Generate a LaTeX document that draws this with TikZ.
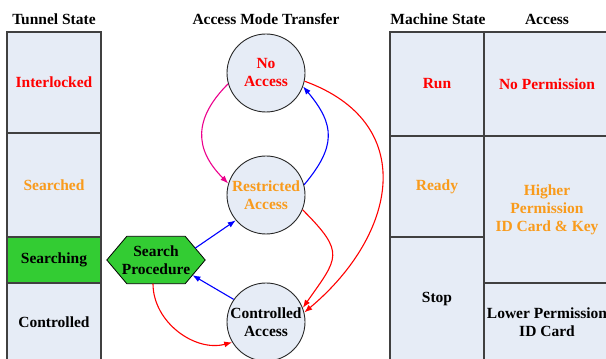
\documentclass[tikz,border=0pt]{standalone}
\usepackage{fontspec}
\setmainfont{Liberation Serif}
\usetikzlibrary{arrows.meta,backgrounds,calc}
\definecolor{cellfill}{HTML}{E6ECF6}
\definecolor{hexgreen}{HTML}{33CC33}
\definecolor{txtred}{HTML}{FF0000}
\definecolor{txtorange}{HTML}{F99B1C}
\definecolor{borderc}{HTML}{404040}
\begin{document}
\begin{tikzpicture}[x=1pt,y=1pt,
  every node/.style={font=\fontsize{15.5}{18}\selectfont\bfseries, align=center, inner sep=0pt},
  hdr/.style={text=black},
  cell/.style={draw=borderc, line width=1.1pt, fill=cellfill, rectangle},
  state/.style={circle, draw=black!85, line width=0.9pt, fill=cellfill, minimum size=78pt},
  arr/.style={line width=1.1pt, -{Latex[length=8pt,width=6pt]}},
  hexshape/.style={draw=black, line width=0.8pt, fill=hexgreen}
]
\useasboundingbox (0,0) rectangle (606,359);
% headers
\node[hdr] (h1) at (54,339.5) {Tunnel State};
\node[hdr] (h2) at (266,339.5) {Access Mode Transfer};
\node[hdr] (h3) at (438,339.5) {Machine State};
\node[hdr] (h4) at (547,339.5) {Access};
% tunnel state column
\node[cell, minimum width=94pt, minimum height=101pt, text=txtred] (interlocked) at (54,276.5) {Interlocked};
\node[cell, minimum width=94pt, minimum height=104pt, text=txtorange] (searched) at (54,174) {Searched};
\node[cell, minimum width=94pt, minimum height=46pt, fill=hexgreen, text=black] (searching) at (54,99) {Searching};
\node[cell, minimum width=94pt, minimum height=78pt, text=black] (controlled) at (54,37) {Controlled};
% machine state column
\node[cell, minimum width=94pt, minimum height=104pt, text=txtred] (run) at (437,275) {Run};
\node[cell, minimum width=94pt, minimum height=101pt, text=txtorange] (ready) at (437,172.5) {Ready};
\node[cell, minimum width=94pt, minimum height=124pt, text=black] (stop) at (437,60) {Stop};
% access column
\node[cell, minimum width=126pt, minimum height=104pt, text=txtred] (noperm) at (547,275) {No Permission};
\node[cell, minimum width=126pt, minimum height=147pt, text=txtorange] (higher) at (547,149.5) {Higher\\Permission\\ID Card \& Key};
\node[cell, minimum width=126pt, minimum height=78pt, text=black] (lower) at (547,37) {Lower Permission\\ID Card};
% states
\node[state, text=txtred] (na) at (266,286) {No\\Access};
\node[state, text=txtorange] (ra) at (266,164) {Restricted\\Access};
\node[state, text=black] (ca) at (266,37) {Controlled\\Access};
% hexagon
\node[minimum width=98pt, minimum height=47pt] (sp) at (156,99) {Search\\Procedure};
\coordinate (tl) at ([xshift=20pt]sp.north west);
\coordinate (tr) at ([xshift=-20pt]sp.north east);
\coordinate (br) at ([xshift=-20pt]sp.south east);
\coordinate (bl) at ([xshift=20pt]sp.south west);
\begin{pgfonlayer}{background}
\draw[hexshape] (sp.west) -- (tl) -- (tr) -- (sp.east) -- (br) -- (bl) -- cycle;
\end{pgfonlayer}
% connectors
\draw[arr, magenta] (na.196) to[out=225, in=135, looseness=1.25] (ra.163);
\draw[arr, blue] (ra.15) to[out=50, in=-50, looseness=1.3] (na.-20);
\draw[arr, red] (na.-12) to[out=-20, in=40, looseness=1.35] (ca.14);
\draw[arr, red] (ra.-22) to[out=-45, in=55, looseness=1.6] (ca.21);
\draw[arr, blue] ($(sp.east)!0.5!(tr)$) -- (ra.220);
\draw[arr, blue] (ca.145) -- ($(sp.east)!0.64!(br)$);
\draw[arr, red] ([xshift=-3pt]sp.south) to[out=-90, in=195] (ca.211);
\end{tikzpicture}
\end{document}
